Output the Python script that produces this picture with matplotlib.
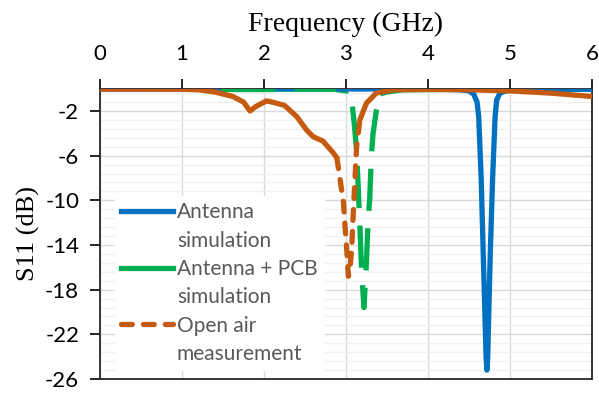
import numpy as np
import matplotlib
matplotlib.use("Agg")
from matplotlib import pyplot as plt
from matplotlib.lines import Line2D

plt.rcParams["axes.unicode_minus"] = False

# values
ant_freq = [0, 1.0, 2.0, 3.0, 4.0, 4.4, 4.5, 4.56, 4.6, 4.62, 4.65, 4.68, 4.71, 4.72,
            4.73, 4.76, 4.79, 4.82, 4.84, 4.88, 4.95, 5.05, 5.5, 6.0]
ant_s11 = [-0.02, -0.02, -0.02, -0.03, -0.03, -0.1, -0.2, -0.5, -1.2, -2.5, -8, -16, -24, -25.2,
           -24, -15, -8, -2.5, -1.0, -0.4, -0.2, -0.1, -0.05, -0.05]

pcb_freq = [0, 1.0, 1.5, 2.1, 2.4, 2.85, 3.0, 3.05, 3.07, 3.1, 3.13, 3.16, 3.17, 3.19, 3.21, 3.22,
            3.25, 3.27, 3.29, 3.31, 3.33, 3.37, 3.41, 3.45, 3.5, 3.7, 4.5, 6.0]
pcb_s11 = [-0.02, -0.02, -0.03, -0.03, -0.04, -0.05, -0.2, -0.7, -1.0, -3.0, -5.5, -10.5, -12.2, -16.0, -18.5, -19.6,
           -15.6, -11.9, -9.9, -6.1, -4.1, -2.0, -0.7, -0.4, -0.3, -0.1, -0.05, -0.05]

air_freq = [0, 0.5, 1.0, 1.2, 1.4, 1.62, 1.75, 1.83, 1.9, 2.03, 2.1, 2.25, 2.4, 2.52, 2.6, 2.72,
            2.84, 2.89, 2.93, 2.97, 2.99, 3.01, 3.03, 3.05, 3.07, 3.09, 3.11, 3.13, 3.17, 3.25,
            3.37, 3.58, 4.0, 4.5, 5.0, 5.5, 6.0]
air_s11 = [-0.05, -0.05, -0.06, -0.1, -0.3, -0.7, -1.2, -2.0, -1.6, -1.1, -1.2, -1.5, -2.5, -3.7, -4.3, -4.7,
           -5.7, -6.2, -8.2, -10.2, -12.4, -14.4, -16.8, -16.0, -14.4, -11.1, -8.2, -5.2, -2.8, -1.3,
           -0.4, -0.1, -0.07, -0.1, -0.2, -0.4, -0.7]

labels = [["Antenna", "simulation"], ["Antenna + PCB", "simulation"], ["Open air", "measurement"]]
colors = ["#0070C0", "#00B050", "#C55A11"]

LW = 3.8
GREEN_DASH = (8, 3.3)
ORANGE_DASH = (2.05, 2.1)


def part(vals, keep):
    # NaN out the points that are not in this piece of the curve
    vals = np.asarray(vals, dtype=float)
    return np.where(keep, vals, np.nan)


fig = plt.figure(figsize=(5.99, 3.94), dpi=100)
ax = fig.add_axes([0.167, 0.038, 0.821, 0.737])

ax.plot(ant_freq, ant_s11, color=colors[0], lw=LW, zorder=3)

f = np.asarray(pcb_freq)
pcb_dip = (f >= 3.0) & (f <= 3.45)
# flat parts sit under the blue line, two pieces show on top, the dip is dashed
ax.plot(f, part(pcb_s11, ~pcb_dip | (f == 3.0) | (f == 3.45)), color=colors[1], lw=LW, zorder=2)
for lo, hi in [(1.5, 2.1), (2.4, 2.85)]:
    ax.plot(f, part(pcb_s11, (f >= lo) & (f <= hi)), color=colors[1], lw=LW, zorder=4)
ax.plot(f, part(pcb_s11, pcb_dip), color=colors[1], lw=LW,
        linestyle=(GREEN_DASH[0], GREEN_DASH), zorder=4)

g = np.asarray(air_freq)
air_dip = (g >= 2.89) & (g <= 3.17)
ax.plot(g, part(air_s11, ~air_dip | (g == 2.89) | (g == 3.17)), color=colors[2], lw=LW,
        solid_capstyle="round", zorder=5)
ax.plot(g, part(air_s11, air_dip), color=colors[2], lw=LW,
        dashes=ORANGE_DASH, dash_capstyle="round", zorder=5)

ax.set_xlim(0, 6)
ax.set_ylim(-26, 0)
ax.set_xticks(range(0, 7))
ax.set_yticks(np.arange(-26, 0, 4))
ax.set_yticks(np.arange(-26, 0, 0.8), minor=True)
ax.xaxis.tick_top()
ax.xaxis.set_label_position("top")

for t in ax.get_xticklabels() + ax.get_yticklabels():
    t.set_fontfamily("Lato")
    t.set_fontsize(16)
ax.tick_params(axis="x", direction="out", length=7, width=1.2, pad=11)
ax.tick_params(axis="y", which="major", direction="out", length=7, width=1.2, pad=8)
ax.tick_params(axis="y", which="minor", length=0)

ax.grid(axis="x", which="major", color="#D9D9D9", lw=1)
ax.grid(axis="y", which="major", color="#D9D9D9", lw=1)
ax.grid(axis="y", which="minor", color="#F0F0F0", lw=1)
ax.set_axisbelow(True)

for side in ["left", "bottom", "right", "top"]:
    ax.spines[side].set_color("#262626")
    ax.spines[side].set_linewidth(1.3)

ax.set_xlabel("Frequency (GHz)", family="Liberation Serif", fontsize=20, va="center")
ax.xaxis.set_label_coords(0.5, 1.22)
ax.set_ylabel("S11 (dB)", family="Liberation Serif", fontsize=19, va="center")
ax.yaxis.set_label_coords(-0.146, 0.5)

# legend: one row per text line, the sample sits next to the first line
handles, texts = [], []
blank = Line2D([], [], color="none", lw=0)
styles = [dict(), dict(), dict(dashes=ORANGE_DASH, dash_capstyle="round")]
for color, lab, st in zip(colors, labels, styles):
    handles.append(Line2D([], [], color=color, lw=LW, **st))
    texts.append(lab[0])
    handles.append(blank)
    texts.append(lab[1])
leg = ax.legend(handles, texts, loc="lower left", bbox_to_anchor=(0.03, 0.03),
                frameon=True, fancybox=False, framealpha=1, edgecolor="white",
                prop={"family": "Lato", "size": 15}, labelcolor="#595959",
                handlelength=2.5, handletextpad=0.18, labelspacing=0.4,
                borderpad=0.3, borderaxespad=0.0)
leg.set_zorder(6)

plt.savefig("out.png", dpi=100)
